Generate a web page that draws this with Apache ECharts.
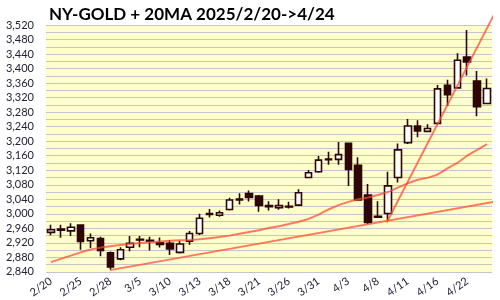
<!DOCTYPE html>
<html><head><meta charset="utf-8">
<script src="https://cdn.jsdelivr.net/npm/echarts@6/dist/echarts.min.js"></script>
<style>html,body{margin:0;padding:0;background:#fff}#c{width:500px;height:300px}</style>
</head><body><div id="c"></div>
<script>
var dates = ['2/20','2/21','2/24','2/25','2/26','2/27','2/28','3/3','3/4','3/5','3/6','3/7','3/10','3/11','3/12','3/13','3/14','3/17','3/18','3/19','3/20','3/21','3/24','3/25','3/26','3/27','3/28','3/31','4/1','4/2','4/3','4/4','4/7','4/8','4/9','4/10','4/11','4/14','4/15','4/16','4/17','4/21','4/22','4/23','4/24'];
var openV  = [2949,2958,2953,2969,2926,2932,2893,2876,2908,2930,2927,2920,2919,2894,2925,2946,3001,2996,3012,3041,3056,3049,3023,3017,3021,3024,3100,3116,3151,3150,3194,3134,3052,2993,3001,3100,3196,3242,3227,3249,3354,3347,3432,3366,3304];
var closeV = [2956,2955,2963,2924,2934,2899,2854,2901,2919,2928,2925,2916,2903,2917,2946,2988,2998,3003,3038,3038,3045,3023,3020,3023,3019,3058,3113,3148,3149,3163,3122,3038,2976,2991,3077,3176,3242,3228,3235,3344,3328,3423,3418,3295,3345];
var lowV   = [2941,2934,2939,2901,2906,2883,2846,2872,2897,2908,2899,2907,2887,2891,2915,2942,2990,2992,3009,3026,3034,3006,3009,3011,3015,3022,3098,3113,3135,3135,3077,3036,2972,2990,2983,3086,3192,3211,3226,3246,3297,3345,3381,3269,3303];
var highV  = [2970,2970,2974,2970,2946,2937,2896,2908,2939,2939,2937,2935,2928,2926,2953,3000,3013,3009,3044,3057,3064,3052,3035,3040,3033,3068,3121,3159,3171,3198,3196,3156,3082,3035,3116,3194,3261,3258,3247,3355,3369,3442,3506,3393,3373];
var ma20   = [2867,2876,2885,2894,2902,2907,2911,2914,2917,2920,2922,2924,2926,2927,2928,2930,2933,2936,2940,2945,2950,2955,2961,2966,2972,2978,2986,2998,3012,3024,3033,3040,3045,3052,3060,3072,3084,3094,3099,3108,3125,3140,3160,3176,3192];
// trend lines: [candle index, price]
var trend1 = [[5.96, 2845], [45.3, 3036]];
var trend2 = [[33.88, 2976], [45.3, 3580]];

var kData = dates.map(function(d, i){ return [openV[i], closeV[i], lowV[i], highV[i]]; });
var lineColor = 'rgba(255,70,50,0.72)';
var font = 'Lato';
var chart = echarts.init(document.getElementById('c'), null, {renderer:'canvas'});
chart.setOption({
  animation: false,
  backgroundColor: '#fff',
  title: {text: 'NY-GOLD + 20MA 2025/2/20->4/24', left: 44, top: 1,
    textStyle: {fontFamily: font, fontSize: 17, fontWeight: 'bold', color: '#000'}},
  grid: {left: 46, right: 8, top: 25, bottom: 28, show: true, backgroundColor: '#FFFFCC', borderWidth: 0},
  xAxis: [{
    type: 'category', data: dates, boundaryGap: true,
    axisLine: {show: false}, axisTick: {show: false}, splitLine: {show: false},
    axisLabel: {interval: 2, rotate: 35, margin: 8, fontFamily: font, fontSize: 11, color: '#223'}
  }, {
    type: 'value', min: -0.5, max: 44.5, show: false
  }],
  yAxis: {
    type: 'value', min: 2840, max: 3520, interval: 20,
    axisLine: {show: false}, axisTick: {show: false},
    splitLine: {show: true, lineStyle: {color: '#C4C4CC', width: 1}},
    axisLabel: {margin: 12, fontFamily: font, fontSize: 11, color: '#223',
      formatter: function(v){ return v % 40 === 0 ? v.toLocaleString('en-US') : ''; }}
  },
  series: [{
    type: 'candlestick', data: kData, barWidth: 7,
    itemStyle: {color: '#FFFFFF', color0: '#2E0505', borderColor: '#2E0505', borderColor0: '#2E0505', borderWidth: 1.6}
  }, {
    type: 'line', data: ma20, symbol: 'none', smooth: false,
    lineStyle: {color: lineColor, width: 2}
  }, {
    type: 'line', xAxisIndex: 1, data: trend1, symbol: 'none', clip: false,
    lineStyle: {color: lineColor, width: 2}
  }, {
    type: 'line', xAxisIndex: 1, data: trend2, symbol: 'none', clip: false,
    lineStyle: {color: lineColor, width: 2}
  }]
});
</script></body></html>
